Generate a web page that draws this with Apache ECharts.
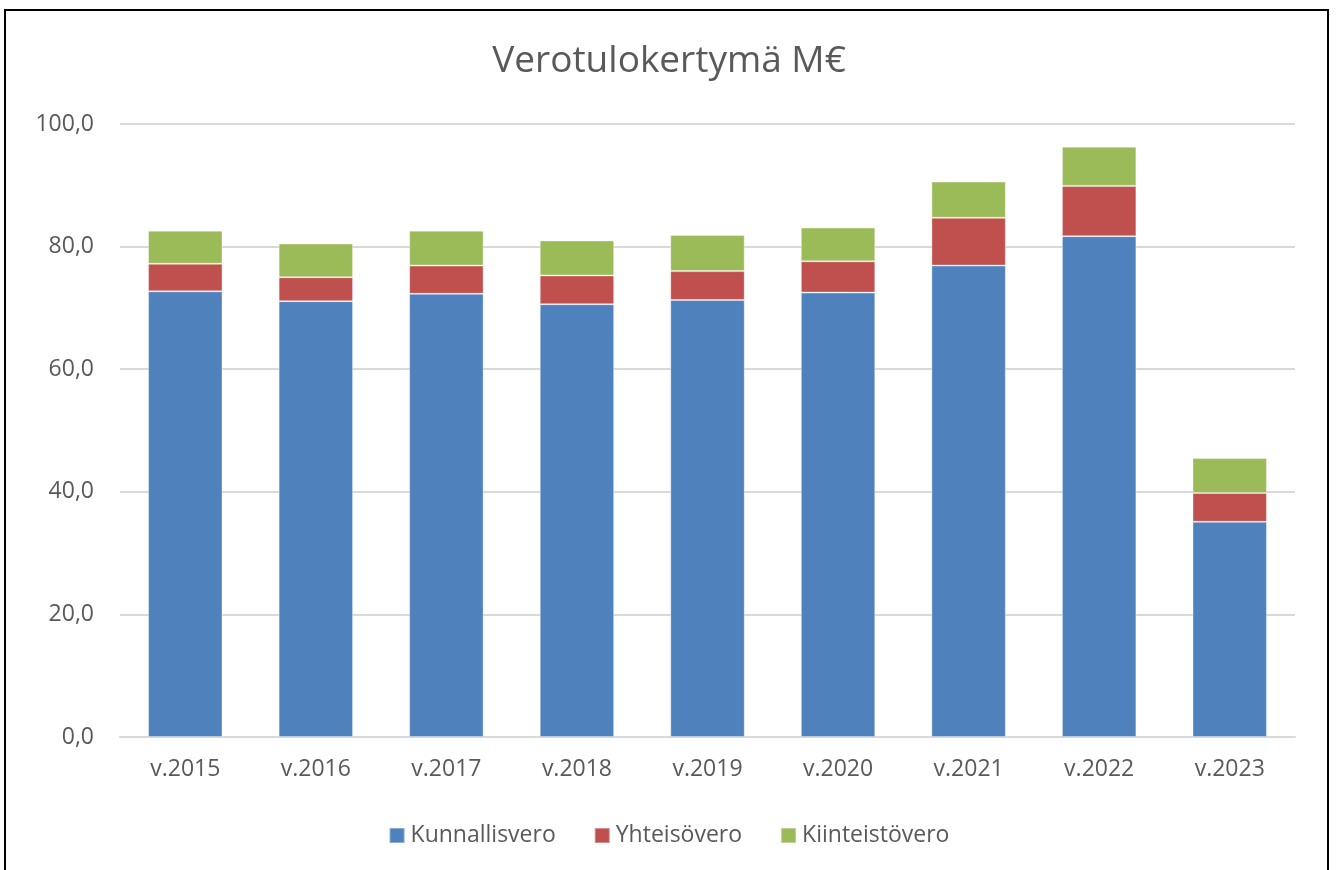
<!DOCTYPE html>
<html>
<head>
<meta charset="utf-8">
<script src="https://cdn.jsdelivr.net/npm/echarts@6/dist/echarts.min.js"></script>
<style>
html,body{margin:0;padding:0;background:#fff;}
#c{width:1338px;height:870px;}
</style>
</head>
<body>
<div id="c"></div>
<script>
const categories = ['v.2015','v.2016','v.2017','v.2018','v.2019','v.2020','v.2021','v.2022','v.2023'];
const kunnallisvero = [72.7, 71.1, 72.3, 70.6, 71.3, 72.5, 76.9, 81.7, 35.1];
const yhteisovero   = [4.5, 3.9, 4.6, 4.7, 4.7, 5.1, 7.8, 8.2, 4.7];
const kiinteistovero= [5.4, 5.5, 5.7, 5.7, 5.9, 5.5, 5.9, 6.4, 5.7];
const seriesNames = ['Kunnallisvero','Yhteisövero','Kiinteistövero'];
const colors = ['#4f81bd','#c0504d','#9bbb59'];

const font = '"Open Sans", sans-serif';
const chart = echarts.init(document.getElementById('c'), null, {renderer:'canvas'});
const mk = (name, data, i) => ({
  name, type:'bar', stack:'total', data,
  barWidth:'57%',
  itemStyle:{color:colors[i], borderColor:'rgba(255,255,255,0.35)', borderWidth:1},
  emphasis:{disabled:true}
});
chart.setOption({
  animation:false,
  backgroundColor:'#fff',
  title:{text:'Verotulokertymä M€', left:'center', top:38,
    textStyle:{fontFamily:font, fontSize:37, fontWeight:'normal', color:'#595959'}},
  legend:{top:819, left:'center', itemWidth:15, itemHeight:15, itemGap:38,
    icon:'rect',
    textStyle:{fontFamily:font, fontSize:23, color:'#595959', padding:[0,0,0,1]},
    data:seriesNames},
  grid:{left:120, right:43, top:124, bottom:133},
  xAxis:{type:'category', data:categories,
    axisLine:{lineStyle:{color:'#d9d9d9', width:2}},
    axisTick:{show:false},
    axisLabel:{fontFamily:font, fontSize:23, color:'#595959', margin:21}},
  yAxis:{type:'value', min:0, max:100, interval:20,
    axisLine:{show:false}, axisTick:{show:false},
    splitLine:{lineStyle:{color:'#d9d9d9', width:2}},
    axisLabel:{fontFamily:font, fontSize:23, color:'#595959', margin:26,
      formatter:v=>v.toFixed(1).replace('.',',')}},
  graphic:[{type:'rect', shape:{x:5, y:10, width:1323, height:880},
    style:{fill:'none', stroke:'#000', lineWidth:2}, silent:true}],
  series:[mk(seriesNames[0],kunnallisvero,0), mk(seriesNames[1],yhteisovero,1), mk(seriesNames[2],kiinteistovero,2)]
});
</script>
</body>
</html>
